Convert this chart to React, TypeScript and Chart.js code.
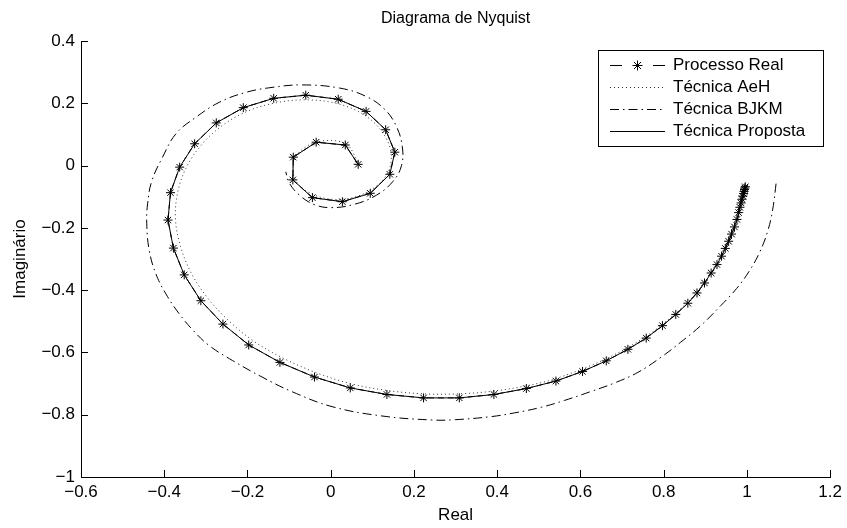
import { useEffect, useRef } from "react";
import { Chart, registerables } from "chart.js";

Chart.register(...registerables);

// Nyquist curve of the real process (marked with asterisks)
const realRe = [0.996, 0.995, 0.994, 0.993, 0.992, 0.990, 0.988, 0.986, 0.983, 0.980, 0.976, 0.970, 0.963, 0.956, 0.948, 0.939, 0.928, 0.914, 0.898, 0.880, 0.858, 0.829, 0.797, 0.758, 0.714, 0.662, 0.605, 0.541, 0.470, 0.392, 0.309, 0.223, 0.135, 0.047, -0.039, -0.122, -0.197, -0.259, -0.312, -0.352, -0.378, -0.391, -0.385, -0.363, -0.327, -0.275, -0.210, -0.137, -0.060, 0.018, 0.085, 0.132, 0.154, 0.142, 0.095, 0.028, -0.044, -0.091, -0.090, -0.035, 0.035, 0.066];
const realIm = [-0.068, -0.072, -0.077, -0.083, -0.090, -0.098, -0.108, -0.120, -0.134, -0.151, -0.173, -0.197, -0.220, -0.243, -0.266, -0.291, -0.318, -0.345, -0.377, -0.409, -0.442, -0.478, -0.514, -0.554, -0.590, -0.627, -0.661, -0.692, -0.716, -0.735, -0.746, -0.746, -0.735, -0.714, -0.679, -0.632, -0.576, -0.509, -0.434, -0.351, -0.265, -0.175, -0.087, -0.005, 0.070, 0.137, 0.186, 0.216, 0.226, 0.213, 0.174, 0.115, 0.043, -0.028, -0.089, -0.116, -0.103, -0.046, 0.027, 0.075, 0.066, 0.004];

// AeH identified model
const aehRe = [0.996, 0.990, 0.985, 0.970, 0.948, 0.914, 0.880, 0.829, 0.758, 0.662, 0.541, 0.470, 0.392, 0.309, 0.223, 0.135, 0.047, -0.035, -0.115, -0.187, -0.246, -0.297, -0.336, -0.361, -0.373, -0.368, -0.348, -0.313, -0.263, -0.201, -0.130, -0.057, 0.016, 0.080, 0.123, 0.145, 0.136, 0.093, 0.030, -0.037, -0.085, -0.085, -0.035, 0.036, 0.068];
const aehIm = [-0.068, -0.100, -0.128, -0.197, -0.266, -0.345, -0.407, -0.474, -0.548, -0.620, -0.684, -0.707, -0.724, -0.733, -0.733, -0.722, -0.700, -0.665, -0.618, -0.562, -0.497, -0.423, -0.343, -0.259, -0.173, -0.088, -0.009, 0.063, 0.126, 0.174, 0.202, 0.211, 0.199, 0.163, 0.109, 0.042, -0.026, -0.081, -0.108, -0.096, -0.046, 0.026, 0.075, 0.070, 0.003];

// BJKM identified model
const bjkmRe = [1.070, 1.062, 1.050, 1.030, 1.005, 0.975, 0.937, 0.889, 0.841, 0.794, 0.738, 0.682, 0.626, 0.562, 0.506, 0.442, 0.386, 0.299, 0.243, 0.123, 0.003, -0.093, -0.165, -0.236, -0.292, -0.330, -0.364, -0.396, -0.420, -0.436, -0.442, -0.440, -0.430, -0.404, -0.372, -0.324, -0.268, -0.204, -0.141, -0.069, 0.021, 0.085, 0.130, 0.158, 0.172, 0.170, 0.150, 0.110, 0.055, 0.000, -0.040, -0.075, -0.100, -0.108];
const bjkmIm = [-0.058, -0.140, -0.210, -0.280, -0.340, -0.395, -0.450, -0.514, -0.567, -0.615, -0.664, -0.698, -0.725, -0.754, -0.776, -0.794, -0.806, -0.816, -0.817, -0.804, -0.774, -0.726, -0.679, -0.626, -0.578, -0.530, -0.476, -0.412, -0.348, -0.273, -0.187, -0.123, -0.050, 0.027, 0.102, 0.155, 0.203, 0.235, 0.251, 0.259, 0.249, 0.222, 0.180, 0.125, 0.060, 0.000, -0.050, -0.095, -0.125, -0.135, -0.125, -0.095, -0.055, -0.020];

// Proposed technique
const propRe = [0.996, 0.995, 0.994, 0.993, 0.992, 0.990, 0.988, 0.986, 0.983, 0.980, 0.976, 0.970, 0.963, 0.956, 0.948, 0.939, 0.928, 0.914, 0.898, 0.880, 0.858, 0.829, 0.797, 0.758, 0.714, 0.662, 0.605, 0.541, 0.470, 0.392, 0.309, 0.223, 0.135, 0.047, -0.039, -0.122, -0.197, -0.259, -0.312, -0.352, -0.378, -0.391, -0.385, -0.363, -0.327, -0.275, -0.210, -0.137, -0.060, 0.018, 0.085, 0.132, 0.154, 0.142, 0.095, 0.028, -0.044, -0.091, -0.090, -0.035, 0.035, 0.066];
const propIm = [-0.068, -0.072, -0.077, -0.083, -0.090, -0.098, -0.108, -0.120, -0.134, -0.151, -0.173, -0.197, -0.220, -0.243, -0.266, -0.291, -0.318, -0.345, -0.377, -0.409, -0.442, -0.478, -0.514, -0.554, -0.590, -0.627, -0.661, -0.692, -0.716, -0.735, -0.746, -0.746, -0.735, -0.714, -0.679, -0.632, -0.576, -0.509, -0.434, -0.351, -0.265, -0.175, -0.087, -0.005, 0.070, 0.137, 0.186, 0.216, 0.226, 0.213, 0.174, 0.115, 0.043, -0.028, -0.089, -0.116, -0.103, -0.046, 0.027, 0.075, 0.066, 0.004];

const seriesLabels = ["Processo Real", "Técnica AeH", "Técnica BJKM", "Técnica Proposta"];

const xTicks = [-0.6, -0.4, -0.2, 0, 0.2, 0.4, 0.6, 0.8, 1, 1.2];
const yTicks = [-1, -0.8, -0.6, -0.4, -0.2, 0, 0.2, 0.4];

const titleText = "Diagrama de Nyquist";
const xLabel = "Real";
const yLabel = "Imaginário";

const FONT = '"Liberation Sans", Arial, Helvetica, sans-serif';

const toPoints = (re: number[], im: number[]) => re.map((x, i) => ({ x, y: im[i] }));

const fmt = (v: number) => {
  const r = Math.round(v * 10) / 10;
  const s = String(Math.abs(r));
  return r < 0 ? "\u2212" + s : s;
};

function drawAsterisk(ctx: CanvasRenderingContext2D, x: number, y: number, r: number) {
  ctx.beginPath();
  for (let k = 0; k < 4; k++) {
    const a = (k * Math.PI) / 4;
    ctx.moveTo(x - r * Math.cos(a), y - r * Math.sin(a));
    ctx.lineTo(x + r * Math.cos(a), y + r * Math.sin(a));
  }
  ctx.stroke();
}

const decorPlugin = {
  id: "nyquistDecor",
  afterDraw(chart: any) {
    const { ctx, chartArea, scales } = chart;
    const xs = scales.x;
    const ys = scales.y;
    ctx.save();
    ctx.strokeStyle = "#000";
    ctx.lineWidth = 1;
    ctx.setLineDash([]);
    // inward tick marks
    ctx.beginPath();
    xTicks.forEach((v) => {
      const px = Math.round(xs.getPixelForValue(v)) + 0.5;
      ctx.moveTo(px, chartArea.bottom);
      ctx.lineTo(px, chartArea.bottom - 7);
    });
    yTicks.forEach((v) => {
      const py = Math.round(ys.getPixelForValue(v)) + 0.5;
      ctx.moveTo(chartArea.left, py);
      ctx.lineTo(chartArea.left + 7, py);
    });
    ctx.stroke();

    // title and axis labels
    ctx.fillStyle = "#000";
    ctx.textAlign = "center";
    ctx.textBaseline = "middle";
    const cx = (chartArea.left + chartArea.right) / 2;
    ctx.font = `16px ${FONT}`;
    ctx.fillText(titleText, cx, 19);
    ctx.font = `17px ${FONT}`;
    ctx.fillText(xLabel, cx, 515);
    ctx.save();
    ctx.translate(20, (chartArea.top + chartArea.bottom) / 2);
    ctx.rotate(-Math.PI / 2);
    ctx.fillText(yLabel, 0, 0);
    ctx.restore();

    // legend box
    const bx = 598.5, by = 50.5, bw = 225, bh = 96;
    ctx.fillStyle = "#fff";
    ctx.fillRect(bx, by, bw, bh);
    ctx.strokeStyle = "#000";
    ctx.strokeRect(bx, by, bw, bh);
    const rows = [65.5, 87.5, 109.5, 131.5];
    const x0 = 610, x1 = 665;
    chart.data.datasets.forEach((ds: any, i: number) => {
      const y = rows[i];
      ctx.strokeStyle = ds.borderColor;
      ctx.lineWidth = 1;
      if (i === 0) {
        ctx.setLineDash([]);
        ctx.beginPath();
        ctx.moveTo(x0, y);
        ctx.lineTo(x0 + 12, y);
        ctx.moveTo(x1 - 12, y);
        ctx.lineTo(x1, y);
        ctx.stroke();
        drawAsterisk(ctx, (x0 + x1) / 2, y, 5);
      } else {
        ctx.setLineDash(ds.borderDash || []);
        ctx.beginPath();
        ctx.moveTo(x0, y);
        ctx.lineTo(x1, y);
        ctx.stroke();
      }
      ctx.setLineDash([]);
      ctx.fillStyle = "#000";
      ctx.textAlign = "left";
      ctx.textBaseline = "middle";
      ctx.font = `17px ${FONT}`;
      ctx.fillText(ds.label, 673, y);
    });
    ctx.restore();
  },
};

export default function App() {
  const ref = useRef<HTMLCanvasElement | null>(null);

  useEffect(() => {
    if (!ref.current) return;
    const chart = new Chart(ref.current, {
      type: "scatter",
      data: {
        datasets: [
          {
            label: seriesLabels[0],
            data: toPoints(realRe, realIm),
            showLine: true,
            borderColor: "#000",
            borderWidth: 1,
            borderDash: [6, 4],
            pointStyle: "star",
            pointRadius: 4.5,
            pointBorderWidth: 1,
            pointBorderColor: "#000",
            pointBackgroundColor: "#000",
            tension: 0,
          },
          {
            label: seriesLabels[1],
            data: toPoints(aehRe, aehIm),
            showLine: true,
            borderColor: "#333",
            borderWidth: 1,
            borderDash: [1, 3],
            pointRadius: 0,
            tension: 0.35,
          },
          {
            label: seriesLabels[2],
            data: toPoints(bjkmRe, bjkmIm),
            showLine: true,
            borderColor: "#000",
            borderWidth: 1,
            borderDash: [9, 4, 1.5, 4],
            pointRadius: 0,
            tension: 0.4,
          },
          {
            label: seriesLabels[3],
            data: toPoints(propRe, propIm),
            showLine: true,
            borderColor: "#000",
            borderWidth: 1,
            pointRadius: 0,
            tension: 0,
          },
        ],
      },
      options: {
        responsive: false,
        animation: false,
        devicePixelRatio: 1,
        layout: { padding: { left: 0, right: 15, top: 41, bottom: 0 } },
        plugins: {
          legend: { display: false },
          title: { display: false },
          tooltip: { enabled: false },
        },
        scales: {
          x: {
            type: "linear",
            min: -0.6,
            max: 1.2,
            grid: { display: false, drawTicks: false },
            border: { display: true, color: "#000", width: 1 },
            afterBuildTicks: (s: any) => {
              s.ticks = xTicks.map((value) => ({ value }));
            },
            afterFit: (s: any) => {
              s.height = 51;
            },
            ticks: {
              color: "#000",
              padding: 5,
              maxRotation: 0,
              autoSkip: false,
              font: { family: FONT, size: 17 },
              callback: (v: any) => fmt(Number(v)),
            },
          },
          y: {
            type: "linear",
            min: -1,
            max: 0.4,
            grid: { display: false, drawTicks: false },
            border: { display: true, color: "#000", width: 1 },
            afterBuildTicks: (s: any) => {
              s.ticks = yTicks.map((value) => ({ value }));
            },
            afterFit: (s: any) => {
              s.width = 81;
            },
            ticks: {
              color: "#000",
              padding: 6,
              autoSkip: false,
              font: { family: FONT, size: 17 },
              callback: (v: any) => fmt(Number(v)),
            },
          },
        },
      },
      plugins: [decorPlugin],
    });
    return () => chart.destroy();
  }, []);

  return (
    <div style={{ position: "absolute", left: 0, top: 0, width: 847, height: 528, background: "#fff" }}>
      <canvas ref={ref} width={847} height={528} style={{ display: "block" }} />
    </div>
  );
}
